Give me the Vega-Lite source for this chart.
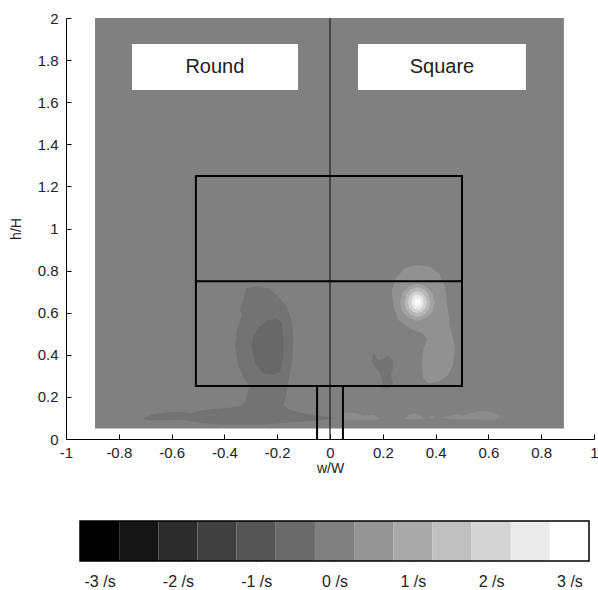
{
  "$schema": "https://vega.github.io/schema/vega-lite/v6.json",
  "padding": {"left": 9, "top": 11, "right": 0, "bottom": 5},
  "bounds": "flush",
  "spacing": 82,
  "config": {
    "view": {"stroke": null},
    "font": "Liberation Sans",
    "axis": {
      "grid": false,
      "labelFont": "Liberation Sans",
      "labelFontSize": 15,
      "labelColor": "#222222",
      "titleFont": "Liberation Sans",
      "titleFontSize": 14,
      "titleFontWeight": "normal",
      "titleColor": "#222222",
      "tickColor": "#000000",
      "domainColor": "#000000",
      "labelFlush": false,
      "labelOverlap": false
    }
  },
  "datasets": {
    "field": [{"x": -0.89, "x2": 0.886, "y": 0.05, "y2": 2, "vort": 0}],
    "contours": [
      {"id": "r1", "i": 0, "x": -0.3155, "y": 0.716, "vort": -0.3},
      {"id": "r1", "i": 1, "x": -0.2777, "y": 0.7235, "vort": -0.3},
      {"id": "r1", "i": 2, "x": -0.2337, "y": 0.716, "vort": -0.3},
      {"id": "r1", "i": 3, "x": -0.1958, "y": 0.676, "vort": -0.3},
      {"id": "r1", "i": 4, "x": -0.164, "y": 0.6285, "vort": -0.3},
      {"id": "r1", "i": 5, "x": -0.1451, "y": 0.5653, "vort": -0.3},
      {"id": "r1", "i": 6, "x": -0.139, "y": 0.486, "vort": -0.3},
      {"id": "r1", "i": 7, "x": -0.1413, "y": 0.391, "vort": -0.3},
      {"id": "r1", "i": 8, "x": -0.1515, "y": 0.312, "vort": -0.3},
      {"id": "r1", "i": 9, "x": -0.1617, "y": 0.2485, "vort": -0.3},
      {"id": "r1", "i": 10, "x": -0.164, "y": 0.209, "vort": -0.3},
      {"id": "r1", "i": 11, "x": -0.177, "y": 0.1615, "vort": -0.3},
      {"id": "r1", "i": 12, "x": -0.1515, "y": 0.1378, "vort": -0.3},
      {"id": "r1", "i": 13, "x": -0.101, "y": 0.122, "vort": -0.3},
      {"id": "r1", "i": 14, "x": -0.05, "y": 0.114, "vort": -0.3},
      {"id": "r1", "i": 15, "x": 0.022, "y": 0.098, "vort": -0.3},
      {"id": "r1", "i": 16, "x": -0.05, "y": 0.087, "vort": -0.3},
      {"id": "r1", "i": 17, "x": -0.1515, "y": 0.079, "vort": -0.3},
      {"id": "r1", "i": 18, "x": -0.2527, "y": 0.0665, "vort": -0.3},
      {"id": "r1", "i": 19, "x": -0.404, "y": 0.0665, "vort": -0.3},
      {"id": "r1", "i": 20, "x": -0.505, "y": 0.079, "vort": -0.3},
      {"id": "r1", "i": 21, "x": -0.568, "y": 0.092, "vort": -0.3},
      {"id": "r1", "i": 22, "x": -0.631, "y": 0.089, "vort": -0.3},
      {"id": "r1", "i": 23, "x": -0.694, "y": 0.089, "vort": -0.3},
      {"id": "r1", "i": 24, "x": -0.707, "y": 0.098, "vort": -0.3},
      {"id": "r1", "i": 25, "x": -0.669, "y": 0.117, "vort": -0.3},
      {"id": "r1", "i": 26, "x": -0.619, "y": 0.127, "vort": -0.3},
      {"id": "r1", "i": 27, "x": -0.568, "y": 0.13, "vort": -0.3},
      {"id": "r1", "i": 28, "x": -0.524, "y": 0.122, "vort": -0.3},
      {"id": "r1", "i": 29, "x": -0.505, "y": 0.133, "vort": -0.3},
      {"id": "r1", "i": 30, "x": -0.442, "y": 0.1425, "vort": -0.3},
      {"id": "r1", "i": 31, "x": -0.379, "y": 0.149, "vort": -0.3},
      {"id": "r1", "i": 32, "x": -0.341, "y": 0.158, "vort": -0.3},
      {"id": "r1", "i": 33, "x": -0.322, "y": 0.177, "vort": -0.3},
      {"id": "r1", "i": 34, "x": -0.3155, "y": 0.209, "vort": -0.3},
      {"id": "r1", "i": 35, "x": -0.303, "y": 0.2485, "vort": -0.3},
      {"id": "r1", "i": 36, "x": -0.322, "y": 0.28, "vort": -0.3},
      {"id": "r1", "i": 37, "x": -0.347, "y": 0.3435, "vort": -0.3},
      {"id": "r1", "i": 38, "x": -0.36, "y": 0.4385, "vort": -0.3},
      {"id": "r1", "i": 39, "x": -0.353, "y": 0.518, "vort": -0.3},
      {"id": "r1", "i": 40, "x": -0.3345, "y": 0.589, "vort": -0.3},
      {"id": "r1", "i": 41, "x": -0.341, "y": 0.613, "vort": -0.3},
      {"id": "r1", "i": 42, "x": -0.328, "y": 0.66, "vort": -0.3},
      {"id": "r1", "i": 43, "x": -0.322, "y": 0.7, "vort": -0.3},

      {"id": "r2", "i": 0, "x": -0.202, "y": 0.573, "vort": -0.55},
      {"id": "r2", "i": 1, "x": -0.183, "y": 0.55, "vort": -0.55},
      {"id": "r2", "i": 2, "x": -0.177, "y": 0.486, "vort": -0.55},
      {"id": "r2", "i": 3, "x": -0.177, "y": 0.391, "vort": -0.55},
      {"id": "r2", "i": 4, "x": -0.189, "y": 0.32, "vort": -0.55},
      {"id": "r2", "i": 5, "x": -0.215, "y": 0.304, "vort": -0.55},
      {"id": "r2", "i": 6, "x": -0.2527, "y": 0.312, "vort": -0.55},
      {"id": "r2", "i": 7, "x": -0.284, "y": 0.36, "vort": -0.55},
      {"id": "r2", "i": 8, "x": -0.2966, "y": 0.4385, "vort": -0.55},
      {"id": "r2", "i": 9, "x": -0.2905, "y": 0.494, "vort": -0.55},
      {"id": "r2", "i": 10, "x": -0.265, "y": 0.5335, "vort": -0.55},
      {"id": "r2", "i": 11, "x": -0.2337, "y": 0.565, "vort": -0.55},

      {"id": "s0", "i": 0, "x": 0.164, "y": 0.407, "vort": -0.3},
      {"id": "s0", "i": 1, "x": 0.183, "y": 0.375, "vort": -0.3},
      {"id": "s0", "i": 2, "x": 0.202, "y": 0.383, "vort": -0.3},
      {"id": "s0", "i": 3, "x": 0.221, "y": 0.394, "vort": -0.3},
      {"id": "s0", "i": 4, "x": 0.2375, "y": 0.375, "vort": -0.3},
      {"id": "s0", "i": 5, "x": 0.24, "y": 0.3435, "vort": -0.3},
      {"id": "s0", "i": 6, "x": 0.23, "y": 0.304, "vort": -0.3},
      {"id": "s0", "i": 7, "x": 0.24, "y": 0.2646, "vort": -0.3},
      {"id": "s0", "i": 8, "x": 0.227, "y": 0.241, "vort": -0.3},
      {"id": "s0", "i": 9, "x": 0.202, "y": 0.241, "vort": -0.3},
      {"id": "s0", "i": 10, "x": 0.196, "y": 0.28, "vort": -0.3},
      {"id": "s0", "i": 11, "x": 0.187, "y": 0.32, "vort": -0.3},
      {"id": "s0", "i": 12, "x": 0.17, "y": 0.3435, "vort": -0.3},
      {"id": "s0", "i": 13, "x": 0.158, "y": 0.375, "vort": -0.3},

      {"id": "s1", "i": 0, "x": 0.328, "y": 0.8266, "vort": 0.4},
      {"id": "s1", "i": 1, "x": 0.379, "y": 0.8185, "vort": 0.4},
      {"id": "s1", "i": 2, "x": 0.4167, "y": 0.779, "vort": 0.4},
      {"id": "s1", "i": 3, "x": 0.4356, "y": 0.7235, "vort": 0.4},
      {"id": "s1", "i": 4, "x": 0.442, "y": 0.66, "vort": 0.4},
      {"id": "s1", "i": 5, "x": 0.4545, "y": 0.5335, "vort": 0.4},
      {"id": "s1", "i": 6, "x": 0.4735, "y": 0.4385, "vort": 0.4},
      {"id": "s1", "i": 7, "x": 0.467, "y": 0.3596, "vort": 0.4},
      {"id": "s1", "i": 8, "x": 0.448, "y": 0.304, "vort": 0.4},
      {"id": "s1", "i": 9, "x": 0.41, "y": 0.272, "vort": 0.4},
      {"id": "s1", "i": 10, "x": 0.372, "y": 0.2646, "vort": 0.4},
      {"id": "s1", "i": 11, "x": 0.3534, "y": 0.2884, "vort": 0.4},
      {"id": "s1", "i": 12, "x": 0.3473, "y": 0.3515, "vort": 0.4},
      {"id": "s1", "i": 13, "x": 0.3534, "y": 0.4228, "vort": 0.4},
      {"id": "s1", "i": 14, "x": 0.3686, "y": 0.478, "vort": 0.4},
      {"id": "s1", "i": 15, "x": 0.3473, "y": 0.502, "vort": 0.4},
      {"id": "s1", "i": 16, "x": 0.303, "y": 0.526, "vort": 0.4},
      {"id": "s1", "i": 17, "x": 0.2587, "y": 0.5653, "vort": 0.4},
      {"id": "s1", "i": 18, "x": 0.2398, "y": 0.6285, "vort": 0.4},
      {"id": "s1", "i": 19, "x": 0.2337, "y": 0.708, "vort": 0.4},
      {"id": "s1", "i": 20, "x": 0.2527, "y": 0.771, "vort": 0.4},
      {"id": "s1", "i": 21, "x": 0.284, "y": 0.811, "vort": 0.4},

      {"id": "s2", "i": 0, "x": 0.397, "y": 0.65, "vort": 0.8},
      {"id": "s2", "i": 1, "x": 0.388, "y": 0.694, "vort": 0.8},
      {"id": "s2", "i": 2, "x": 0.364, "y": 0.726, "vort": 0.8},
      {"id": "s2", "i": 3, "x": 0.331, "y": 0.738, "vort": 0.8},
      {"id": "s2", "i": 4, "x": 0.298, "y": 0.726, "vort": 0.8},
      {"id": "s2", "i": 5, "x": 0.274, "y": 0.694, "vort": 0.8},
      {"id": "s2", "i": 6, "x": 0.265, "y": 0.65, "vort": 0.8},
      {"id": "s2", "i": 7, "x": 0.274, "y": 0.606, "vort": 0.8},
      {"id": "s2", "i": 8, "x": 0.298, "y": 0.574, "vort": 0.8},
      {"id": "s2", "i": 9, "x": 0.331, "y": 0.562, "vort": 0.8},
      {"id": "s2", "i": 10, "x": 0.364, "y": 0.574, "vort": 0.8},
      {"id": "s2", "i": 11, "x": 0.388, "y": 0.606, "vort": 0.8},

      {"id": "s3", "i": 0, "x": 0.38, "y": 0.65, "vort": 1.3},
      {"id": "s3", "i": 1, "x": 0.373, "y": 0.686, "vort": 1.3},
      {"id": "s3", "i": 2, "x": 0.3555, "y": 0.7115, "vort": 1.3},
      {"id": "s3", "i": 3, "x": 0.331, "y": 0.721, "vort": 1.3},
      {"id": "s3", "i": 4, "x": 0.3065, "y": 0.7115, "vort": 1.3},
      {"id": "s3", "i": 5, "x": 0.289, "y": 0.686, "vort": 1.3},
      {"id": "s3", "i": 6, "x": 0.282, "y": 0.65, "vort": 1.3},
      {"id": "s3", "i": 7, "x": 0.289, "y": 0.614, "vort": 1.3},
      {"id": "s3", "i": 8, "x": 0.3065, "y": 0.5885, "vort": 1.3},
      {"id": "s3", "i": 9, "x": 0.331, "y": 0.579, "vort": 1.3},
      {"id": "s3", "i": 10, "x": 0.3555, "y": 0.5885, "vort": 1.3},
      {"id": "s3", "i": 11, "x": 0.373, "y": 0.614, "vort": 1.3},

      {"id": "s4", "i": 0, "x": 0.367, "y": 0.65, "vort": 1.9},
      {"id": "s4", "i": 1, "x": 0.362, "y": 0.676, "vort": 1.9},
      {"id": "s4", "i": 2, "x": 0.349, "y": 0.695, "vort": 1.9},
      {"id": "s4", "i": 3, "x": 0.331, "y": 0.702, "vort": 1.9},
      {"id": "s4", "i": 4, "x": 0.313, "y": 0.695, "vort": 1.9},
      {"id": "s4", "i": 5, "x": 0.3, "y": 0.676, "vort": 1.9},
      {"id": "s4", "i": 6, "x": 0.295, "y": 0.65, "vort": 1.9},
      {"id": "s4", "i": 7, "x": 0.3, "y": 0.624, "vort": 1.9},
      {"id": "s4", "i": 8, "x": 0.313, "y": 0.605, "vort": 1.9},
      {"id": "s4", "i": 9, "x": 0.331, "y": 0.598, "vort": 1.9},
      {"id": "s4", "i": 10, "x": 0.349, "y": 0.605, "vort": 1.9},
      {"id": "s4", "i": 11, "x": 0.362, "y": 0.624, "vort": 1.9},

      {"id": "s5", "i": 0, "x": 0.354, "y": 0.65, "vort": 2.5},
      {"id": "s5", "i": 1, "x": 0.351, "y": 0.668, "vort": 2.5},
      {"id": "s5", "i": 2, "x": 0.3425, "y": 0.681, "vort": 2.5},
      {"id": "s5", "i": 3, "x": 0.331, "y": 0.686, "vort": 2.5},
      {"id": "s5", "i": 4, "x": 0.3195, "y": 0.681, "vort": 2.5},
      {"id": "s5", "i": 5, "x": 0.311, "y": 0.668, "vort": 2.5},
      {"id": "s5", "i": 6, "x": 0.308, "y": 0.65, "vort": 2.5},
      {"id": "s5", "i": 7, "x": 0.311, "y": 0.632, "vort": 2.5},
      {"id": "s5", "i": 8, "x": 0.3195, "y": 0.619, "vort": 2.5},
      {"id": "s5", "i": 9, "x": 0.331, "y": 0.614, "vort": 2.5},
      {"id": "s5", "i": 10, "x": 0.3425, "y": 0.619, "vort": 2.5},
      {"id": "s5", "i": 11, "x": 0.351, "y": 0.632, "vort": 2.5},

      {"id": "s6", "i": 0, "x": 0.343, "y": 0.65, "vort": 3.0},
      {"id": "s6", "i": 1, "x": 0.3395, "y": 0.6627, "vort": 3.0},
      {"id": "s6", "i": 2, "x": 0.331, "y": 0.668, "vort": 3.0},
      {"id": "s6", "i": 3, "x": 0.3225, "y": 0.6627, "vort": 3.0},
      {"id": "s6", "i": 4, "x": 0.319, "y": 0.65, "vort": 3.0},
      {"id": "s6", "i": 5, "x": 0.3225, "y": 0.6373, "vort": 3.0},
      {"id": "s6", "i": 6, "x": 0.331, "y": 0.632, "vort": 3.0},
      {"id": "s6", "i": 7, "x": 0.3395, "y": 0.6373, "vort": 3.0},

      {"id": "p1", "i": 0, "x": 0.045, "y": 0.104, "vort": 0.3},
      {"id": "p1", "i": 1, "x": 0.06, "y": 0.125, "vort": 0.3},
      {"id": "p1", "i": 2, "x": 0.101, "y": 0.122, "vort": 0.3},
      {"id": "p1", "i": 3, "x": 0.126, "y": 0.111, "vort": 0.3},
      {"id": "p1", "i": 4, "x": 0.164, "y": 0.114, "vort": 0.3},
      {"id": "p1", "i": 5, "x": 0.189, "y": 0.098, "vort": 0.3},
      {"id": "p1", "i": 6, "x": 0.177, "y": 0.09, "vort": 0.3},
      {"id": "p1", "i": 7, "x": 0.101, "y": 0.09, "vort": 0.3},
      {"id": "p1", "i": 8, "x": 0.05, "y": 0.094, "vort": 0.3},

      {"id": "p2", "i": 0, "x": 0.284, "y": 0.095, "vort": 0.3},
      {"id": "p2", "i": 1, "x": 0.297, "y": 0.114, "vort": 0.3},
      {"id": "p2", "i": 2, "x": 0.322, "y": 0.122, "vort": 0.3},
      {"id": "p2", "i": 3, "x": 0.347, "y": 0.111, "vort": 0.3},
      {"id": "p2", "i": 4, "x": 0.356, "y": 0.095, "vort": 0.3},

      {"id": "p3", "i": 0, "x": 0.371, "y": 0.102, "vort": 0.3},
      {"id": "p3", "i": 1, "x": 0.386, "y": 0.111, "vort": 0.3},
      {"id": "p3", "i": 2, "x": 0.4, "y": 0.103, "vort": 0.3},
      {"id": "p3", "i": 3, "x": 0.386, "y": 0.095, "vort": 0.3},

      {"id": "p4", "i": 0, "x": 0.423, "y": 0.101, "vort": 0.3},
      {"id": "p4", "i": 1, "x": 0.4545, "y": 0.111, "vort": 0.3},
      {"id": "p4", "i": 2, "x": 0.48, "y": 0.117, "vort": 0.3},
      {"id": "p4", "i": 3, "x": 0.505, "y": 0.111, "vort": 0.3},
      {"id": "p4", "i": 4, "x": 0.53, "y": 0.122, "vort": 0.3},
      {"id": "p4", "i": 5, "x": 0.568, "y": 0.133, "vort": 0.3},
      {"id": "p4", "i": 6, "x": 0.606, "y": 0.13, "vort": 0.3},
      {"id": "p4", "i": 7, "x": 0.6375, "y": 0.117, "vort": 0.3},
      {"id": "p4", "i": 8, "x": 0.644, "y": 0.101, "vort": 0.3},
      {"id": "p4", "i": 9, "x": 0.619, "y": 0.092, "vort": 0.3},
      {"id": "p4", "i": 10, "x": 0.556, "y": 0.0935, "vort": 0.3},
      {"id": "p4", "i": 11, "x": 0.505, "y": 0.095, "vort": 0.3},
      {"id": "p4", "i": 12, "x": 0.4545, "y": 0.095, "vort": 0.3}
    ],
    "frame": [{"x": -0.508, "x2": 0.5, "y": 0.252, "y2": 1.249}],
    "struts": [
      {"x": -0.508, "x2": 0.5, "y": 0.75, "y2": 0.75},
      {"x": -0.049, "x2": -0.049, "y": 0, "y2": 0.252},
      {"x": 0.049, "x2": 0.049, "y": 0, "y2": 0.252}
    ],
    "centre": [{"x": 0, "x2": 0, "y": 0, "y2": 2}],
    "tags": [
      {"name": "Round", "x": -0.75, "x2": -0.121, "y": 1.658, "y2": 1.876, "cx": -0.436, "cy": 1.767},
      {"name": "Square", "x": 0.106, "x2": 0.742, "y": 1.658, "y2": 1.876, "cx": 0.424, "cy": 1.767}
    ],
    "bar": [
      {"strip": "w", "vort": -3.0, "lo": -3.25, "hi": -2.75},
      {"strip": "w", "vort": -2.5, "lo": -2.75, "hi": -2.25},
      {"strip": "w", "vort": -2.0, "lo": -2.25, "hi": -1.75},
      {"strip": "w", "vort": -1.5, "lo": -1.75, "hi": -1.25},
      {"strip": "w", "vort": -1.0, "lo": -1.25, "hi": -0.75},
      {"strip": "w", "vort": -0.5, "lo": -0.75, "hi": -0.25},
      {"strip": "w", "vort": 0.0, "lo": -0.25, "hi": 0.25},
      {"strip": "w", "vort": 0.5, "lo": 0.25, "hi": 0.75},
      {"strip": "w", "vort": 1.0, "lo": 0.75, "hi": 1.25},
      {"strip": "w", "vort": 1.5, "lo": 1.25, "hi": 1.75},
      {"strip": "w", "vort": 2.0, "lo": 1.75, "hi": 2.25},
      {"strip": "w", "vort": 2.5, "lo": 2.25, "hi": 2.75},
      {"strip": "w", "vort": 3.0, "lo": 2.75, "hi": 3.25}
    ],
    "barframe": [{"strip": "w", "lo": -3.25, "hi": 3.25}]
  },
  "vconcat": [
    {
      "width": 528,
      "height": 421,
      "encoding": {
        "x": {
          "field": "x", "type": "quantitative",
          "scale": {"domain": [-1, 1], "nice": false, "zero": false},
          "axis": {
            "values": [-1, -0.8, -0.6, -0.4, -0.2, 0, 0.2, 0.4, 0.6, 0.8, 1],
            "tickSize": -5,
            "labelPadding": 11,
            "title": "w/W",
            "titlePadding": 1,
            "labelExpr": "'' + datum.value"
          }
        },
        "y": {
          "field": "y", "type": "quantitative",
          "scale": {"domain": [0, 2], "nice": false, "zero": false},
          "axis": {
            "values": [0, 0.2, 0.4, 0.6, 0.8, 1, 1.2, 1.4, 1.6, 1.8, 2],
            "tickSize": -5,
            "labelPadding": 13,
            "title": "h/H",
            "titlePadding": 14,
            "labelExpr": "'' + datum.value"
          }
        }
      },
      "layer": [
        {
          "data": {"name": "field"},
          "mark": {"type": "rect"},
          "encoding": {
            "x2": {"field": "x2"},
            "y2": {"field": "y2"},
            "fill": {"field": "vort", "type": "quantitative", "scale": {"domain": [-3, 3], "range": ["#000000", "#ffffff"], "interpolate": "rgb", "clamp": true}, "legend": null}
          }
        },
        {
          "data": {"name": "contours"},
          "mark": {"type": "line", "filled": true, "strokeWidth": 0, "interpolate": "linear-closed"},
          "encoding": {
            "order": {"field": "i", "type": "quantitative"},
            "detail": {"field": "id", "type": "nominal"},
            "fill": {"field": "vort", "type": "quantitative", "scale": {"domain": [-3, 3], "range": ["#000000", "#ffffff"], "interpolate": "rgb", "clamp": true}, "legend": null}
          }
        },
        {
          "data": {"name": "centre"},
          "mark": {"type": "rule", "color": "#1e1e1e", "strokeWidth": 1.2},
          "encoding": {"x2": {"field": "x2"}, "y2": {"field": "y2"}}
        },
        {
          "data": {"name": "frame"},
          "mark": {"type": "rect", "filled": false, "color": "#000000", "strokeWidth": 2},
          "encoding": {"x2": {"field": "x2"}, "y2": {"field": "y2"}}
        },
        {
          "data": {"name": "struts"},
          "mark": {"type": "rule", "color": "#000000", "strokeWidth": 2},
          "encoding": {"x2": {"field": "x2"}, "y2": {"field": "y2"}}
        },
        {
          "data": {"name": "tags"},
          "mark": {"type": "rect", "color": "#ffffff"},
          "encoding": {"x2": {"field": "x2"}, "y2": {"field": "y2"}}
        },
        {
          "data": {"name": "tags"},
          "mark": {"type": "text", "font": "Liberation Sans", "fontSize": 20, "color": "#222222", "align": "center", "baseline": "middle"},
          "encoding": {
            "x": {"field": "cx", "type": "quantitative"},
            "y": {"field": "cy", "type": "quantitative"},
            "text": {"field": "name"}
          }
        }
      ]
    },
    {
      "width": 523,
      "height": 40,
      "encoding": {
        "y": {"field": "strip", "type": "nominal", "axis": null, "scale": {"paddingInner": 0, "paddingOuter": 0}}
      },
      "layer": [
        {
          "data": {"name": "bar"},
          "mark": {"type": "rect"},
          "encoding": {
            "x": {
              "field": "lo", "type": "quantitative",
              "scale": {"domain": [-3.429, 3.25], "nice": false, "zero": false},
              "axis": {
                "orient": "bottom",
                "values": [-3, -2, -1, 0, 1, 2, 3],
                "tickSize": -4,
                "labelPadding": 16,
                "labelFontSize": 16,
                "domain": false,
                "title": null,
                "labelExpr": "datum.value + ' /s'"
              }
            },
            "x2": {"field": "hi"},
            "fill": {"field": "vort", "type": "quantitative", "scale": {"domain": [-3, 3], "range": ["#000000", "#ffffff"], "interpolate": "rgb", "clamp": true}, "legend": null}
          }
        },
        {
          "data": {"name": "barframe"},
          "mark": {"type": "rect", "filled": false, "color": "#000000", "strokeWidth": 1.5},
          "encoding": {
            "x": {
              "field": "lo", "type": "quantitative",
              "axis": {
                "orient": "top",
                "values": [-3, -2, -1, 0, 1, 2, 3],
                "tickSize": -4,
                "labels": false,
                "domain": false,
                "title": null
              }
            },
            "x2": {"field": "hi"}
          }
        }
      ],
      "resolve": {"axis": {"x": "independent"}}
    }
  ],
  "resolve": {"scale": {"x": "independent", "y": "independent"}}
}
